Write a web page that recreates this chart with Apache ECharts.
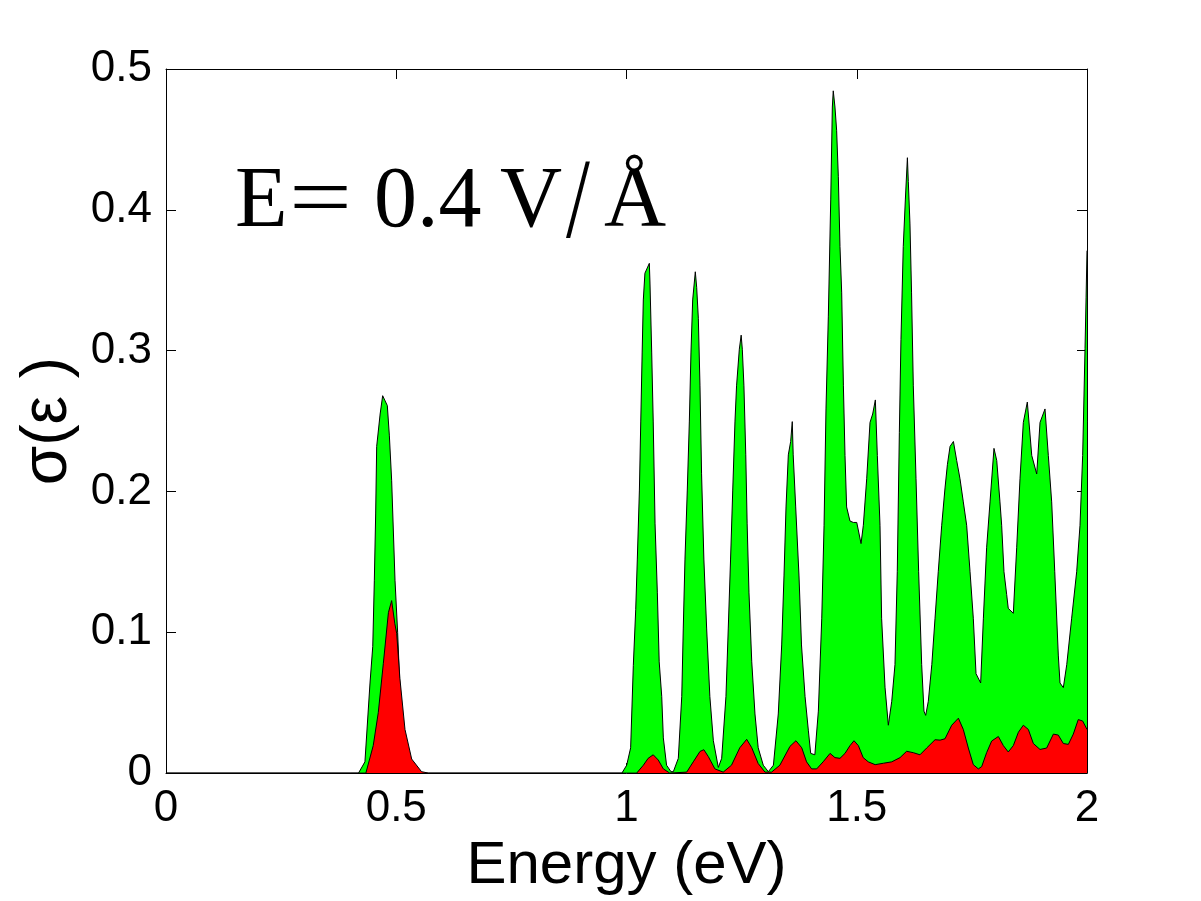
<!DOCTYPE html>
<html>
<head>
<meta charset="utf-8">
<script src="https://cdn.jsdelivr.net/npm/echarts@6.0.0/dist/echarts.min.js"></script>
<style>
  html, body { margin: 0; padding: 0; background: #fff; }
  #main { width: 1201px; height: 901px; }
</style>
</head>
<body>
<div id="main"></div>
<script>
// energies (eV) and sigma values
var greenE = [0, 0.40, 0.418, 0.432, 0.443, 0.449, 0.4524, 0.4553, 0.4575, 0.465, 0.4705, 0.4806, 0.485, 0.490, 0.4973, 0.503, 0.508, 0.519, 0.533, 0.550,
    0.99, 0.9917, 1.0004, 1.009, 1.0148, 1.020, 1.0235, 1.028, 1.031, 1.034, 1.0365, 1.040, 1.0496, 1.051, 1.0547, 1.058, 1.062, 1.067, 1.071, 1.0765, 1.080, 1.087, 1.0966,
    1.1017, 1.1125, 1.120, 1.1233, 1.127, 1.132, 1.1365, 1.140, 1.1437, 1.1494, 1.1524, 1.156, 1.1596, 1.163, 1.168, 1.174, 1.181, 1.1886, 1.1994,
    1.2067, 1.216, 1.221, 1.226, 1.2307, 1.2356, 1.239, 1.245, 1.249, 1.2515, 1.255, 1.259, 1.262, 1.266, 1.272, 1.279, 1.286, 1.297, 1.308,
    1.319, 1.3296, 1.337, 1.342, 1.3464, 1.3514, 1.3565, 1.360, 1.362, 1.3674, 1.3746, 1.380, 1.3877, 1.395, 1.400, 1.409,
    1.4166, 1.424, 1.429, 1.4332, 1.4383, 1.4435, 1.447, 1.449, 1.4527, 1.4563, 1.460, 1.4636, 1.4673, 1.471, 1.4745, 1.478, 1.4853, 1.4926, 1.500,
    1.5093, 1.5143, 1.5216, 1.5288, 1.5346, 1.5404, 1.5447, 1.5505, 1.554, 1.5614, 1.5686, 1.576, 1.583, 1.588, 1.5925, 1.596, 1.601, 1.6055, 1.610,
    1.612, 1.6156, 1.619, 1.6228, 1.6287, 1.6344, 1.641, 1.646, 1.6497, 1.6554, 1.663, 1.670, 1.677, 1.6845, 1.6917, 1.6968, 1.7026, 1.7099, 1.717,
    1.7242, 1.7314, 1.7387, 1.746, 1.7531, 1.759, 1.7691, 1.775, 1.782, 1.7894, 1.798, 1.804, 1.811, 1.8147, 1.8197, 1.8256, 1.829, 1.840, 1.8473,
    1.8545, 1.8617, 1.8704, 1.880, 1.8908, 1.898, 1.9088, 1.916, 1.9233, 1.930, 1.9377, 1.9414, 1.9486, 1.956, 1.9667, 1.9776, 1.9848, 1.9906,
    1.9935, 1.9957, 1.998, 2.0];
var greenV = [0, 0, 0, 0.008, 0.064, 0.090, 0.137, 0.184, 0.232, 0.255, 0.268, 0.261, 0.240, 0.208, 0.137, 0.100, 0.060, 0.022, 0.005, 0,
    0, 0, 0.0056, 0.018, 0.0765, 0.116, 0.152, 0.201, 0.250, 0.299, 0.336, 0.355, 0.362, 0.348, 0.299, 0.250, 0.177, 0.128, 0.079, 0.0545, 0.025, 0.0056, 0.001,
    0.001, 0.0105, 0.0545, 0.103, 0.152, 0.201, 0.250, 0.299, 0.336, 0.356, 0.345, 0.323, 0.275, 0.213, 0.152, 0.103, 0.0545, 0.023, 0.004,
    0.0105, 0.0545, 0.103, 0.152, 0.201, 0.250, 0.275, 0.301, 0.311, 0.301, 0.275, 0.226, 0.177, 0.128, 0.079, 0.042, 0.018, 0.0056, 0.001,
    0.0056, 0.042, 0.091, 0.140, 0.189, 0.226, 0.2355, 0.2496, 0.226, 0.189, 0.140, 0.091, 0.0545, 0.030, 0.014, 0.013,
    0.044, 0.110, 0.176, 0.2586, 0.3245, 0.407, 0.473, 0.4845, 0.473, 0.4565, 0.4235, 0.374, 0.341, 0.275, 0.2256, 0.189, 0.179, 0.178, 0.178,
    0.163, 0.176, 0.209, 0.249, 0.255, 0.265, 0.2256, 0.176, 0.110, 0.061, 0.034, 0.051, 0.077, 0.143, 0.242, 0.308, 0.374, 0.407, 0.437,
    0.420, 0.390, 0.341, 0.275, 0.209, 0.143, 0.077, 0.044, 0.041, 0.051, 0.077, 0.110, 0.143, 0.176, 0.2025, 0.219, 0.232, 0.2355, 0.222,
    0.209, 0.1926, 0.176, 0.143, 0.110, 0.0706, 0.064, 0.110, 0.160, 0.1926, 0.2306, 0.222, 0.1926, 0.176, 0.143, 0.1267, 0.117, 0.1135, 0.160,
    0.209, 0.249, 0.2635, 0.2256, 0.2124, 0.249, 0.2586, 0.2256, 0.1926, 0.143, 0.0838, 0.064, 0.0607, 0.077, 0.110, 0.143, 0.176, 0.2256,
    0.2685, 0.3015, 0.338, 0.371];

var redE = [0, 0.434, 0.450, 0.461, 0.472, 0.483, 0.490, 0.497, 0.501, 0.508, 0.519, 0.5335, 0.555, 0.57,
    1.022, 1.0366, 1.047, 1.058, 1.069, 1.080, 1.094, 1.1307, 1.145, 1.1596, 1.168, 1.1777, 1.192, 1.210, 1.228, 1.246, 1.261, 1.272, 1.286,
    1.3007, 1.315, 1.333, 1.355, 1.368, 1.3805, 1.391, 1.402, 1.413, 1.427, 1.442, 1.4527, 1.4636, 1.4745, 1.4853, 1.494, 1.5035, 1.514, 1.525,
    1.540, 1.558, 1.576, 1.594, 1.6083, 1.6228, 1.6373, 1.6518, 1.670, 1.681, 1.6917, 1.7062, 1.7207, 1.7314, 1.7423, 1.7531, 1.764, 1.7713,
    1.782, 1.793, 1.8075, 1.8184, 1.829, 1.840, 1.851, 1.8617, 1.8726, 1.8835, 1.898, 1.9124, 1.927, 1.9377, 1.9486, 1.9595, 1.9703, 1.981,
    1.9906, 2.0];
var redV = [0, 0, 0.0195, 0.043, 0.078, 0.114, 0.1225, 0.106, 0.099, 0.067, 0.031, 0.010, 0.001, 0,
    0, 0.0056, 0.0105, 0.013, 0.0093, 0.003, 0, 0.0007, 0.008, 0.0154, 0.0166, 0.0117, 0.003, 0.0007, 0.0056, 0.018, 0.024, 0.018, 0.0068,
    0.0007, 0.0007, 0.0056, 0.019, 0.023, 0.018, 0.008, 0.003, 0.003, 0.008, 0.014, 0.011, 0.0105, 0.014, 0.0195, 0.023, 0.0195, 0.011, 0.008,
    0.006, 0.007, 0.008, 0.011, 0.0155, 0.0145, 0.013, 0.0178, 0.0237, 0.0234, 0.0244, 0.034, 0.039, 0.031, 0.0178, 0.006, 0.003, 0.0046,
    0.0145, 0.0228, 0.026, 0.0195, 0.015, 0.0195, 0.029, 0.034, 0.031, 0.021, 0.0168, 0.0178, 0.0277, 0.027, 0.021, 0.0204, 0.0277, 0.038,
    0.037, 0.031];

function pairs(xs, ys) {
    var out = [];
    for (var i = 0; i < xs.length; i++) out.push([xs[i], ys[i]]);
    return out;
}

window.onload = function () {
    var myChart = echarts.init(document.getElementById('main'));
    var font = 'Liberation Sans';
    var tick = { show: true, inside: true, length: 10, lineStyle: { color: '#000', width: 1 } };
    var line = { show: true, onZero: false, lineStyle: { color: '#000', width: 1 } };
    var serif = '86px "Liberation Serif"';

    var option = {
        backgroundColor: '#fff',
        animation: false,
        grid: { left: 166, right: 114, top: 69, bottom: 127 },
        xAxis: [{
            type: 'value', min: 0, max: 2, interval: 0.5,
            axisLine: line, axisTick: tick, splitLine: { show: false },
            axisLabel: { color: '#000', fontFamily: font, fontSize: 44, margin: 14 },
            name: 'Energy (eV)', nameLocation: 'middle', nameGap: 50,
            nameTextStyle: { color: '#000', fontFamily: font, fontSize: 60 }
        }, {
            type: 'value', position: 'top', min: 0, max: 2, interval: 0.5,
            axisLine: line, axisTick: tick, axisLabel: { show: false }, splitLine: { show: false }
        }],
        yAxis: [{
            type: 'value', min: 0, max: 0.5, interval: 0.1,
            axisLine: line, axisTick: tick, splitLine: { show: false },
            axisLabel: { color: '#000', fontFamily: font, fontSize: 44, margin: 14 },
            name: 'σ(ε )', nameLocation: 'middle', nameGap: 62, nameRotate: 90,
            nameTextStyle: { color: '#000', fontFamily: font, fontSize: 64 }
        }, {
            type: 'value', position: 'right', min: 0, max: 0.5, interval: 0.1,
            axisLine: line, axisTick: tick, axisLabel: { show: false }, splitLine: { show: false }
        }],
        // field label, placed piece by piece to follow the wide LaTeX spacing
        graphic: [
            { type: 'text', left: 235, top: 160, style: { text: 'E', fill: '#000', font: serif } },
            { type: 'text', x: 289, y: 160, scaleX: 1.3, style: { text: '=', fill: '#000', font: serif } },
            { type: 'text', left: 374, top: 160, style: { text: '0.4', fill: '#000', font: serif } },
            { type: 'text', left: 500, top: 160, style: { text: 'V', fill: '#000', font: serif } },
            { type: 'text', x: 566, y: 150, scaleY: 1.32, style: { text: '/', fill: '#000', font: serif } },
            { type: 'text', left: 604, top: 160, style: { text: 'Å', fill: '#000', font: serif } }
        ],
        series: [{
            type: 'line',
            data: pairs(greenE, greenV),
            showSymbol: false,
            lineStyle: { color: '#000', width: 1 },
            areaStyle: { color: '#00ff00', opacity: 1 },
            z: 2
        }, {
            type: 'line',
            data: pairs(redE, redV),
            showSymbol: false,
            lineStyle: { color: '#000', width: 1 },
            areaStyle: { color: '#ff0000', opacity: 1 },
            z: 3
        }]
    };

    myChart.setOption(option);
}
</script>
</body>
</html>
